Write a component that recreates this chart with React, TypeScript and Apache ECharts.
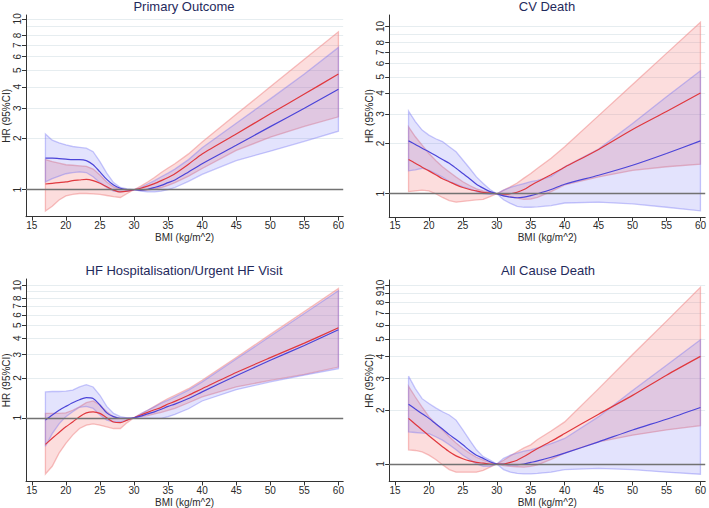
import React, { useEffect, useRef } from 'react';
import * as echarts from 'echarts';

// ---------- data ----------
const BMI = [17, 18, 19, 20, 21, 22, 23, 24, 25, 26, 27, 28, 29, 30, 31, 32, 33, 34, 35, 36, 38, 40, 45, 50, 55, 60];
const BMI_TICKS = [15, 20, 25, 30, 35, 40, 45, 50, 55, 60];
const HR_TICKS = [1, 2, 3, 4, 5, 6, 7, 8, 9, 10];
const TITLES = ['Primary Outcome', 'CV Death', 'HF Hospitalisation/Urgent HF Visit', 'All Cause Death'];

// Primary Outcome
const p1RedHR = [1.08, 1.09, 1.1, 1.11, 1.13, 1.14, 1.15, 1.13, 1.09, 1.04, 0.995, 0.97, 0.98, 1.0, 1.02, 1.05, 1.085, 1.13, 1.18, 1.24, 1.41, 1.62, 2.12, 2.78, 3.63, 4.75];
const p1RedLo = [0.75, 0.8, 0.87, 0.92, 0.94, 0.95, 0.95, 0.945, 0.94, 0.925, 0.91, 0.9, 0.95, 1.0, 0.99, 0.995, 1.01, 1.03, 1.06, 1.1, 1.2, 1.33, 1.7, 2.03, 2.35, 2.67];
const p1RedHi = [1.5, 1.46, 1.43, 1.4, 1.39, 1.38, 1.37, 1.32, 1.22, 1.11, 1.04, 1.01, 1.0, 1.0, 1.05, 1.11, 1.18, 1.26, 1.34, 1.42, 1.62, 1.9, 2.76, 4.0, 5.8, 8.4];
const p1BlueHR = [1.53, 1.53, 1.52, 1.51, 1.5, 1.5, 1.48, 1.4, 1.27, 1.15, 1.065, 1.02, 1.0, 1.0, 0.995, 1.005, 1.03, 1.06, 1.1, 1.14, 1.27, 1.42, 1.82, 2.34, 3.0, 3.87];
const p1BlueLo = [1.11, 1.16, 1.2, 1.24, 1.26, 1.27, 1.26, 1.19, 1.1, 1.03, 0.98, 0.97, 0.98, 1.0, 0.98, 0.97, 0.97, 0.98, 1.0, 1.03, 1.12, 1.23, 1.48, 1.68, 1.92, 2.2];
const p1BlueHi = [2.12, 1.95, 1.88, 1.83, 1.79, 1.77, 1.75, 1.67, 1.46, 1.25, 1.1, 1.03, 1.01, 1.0, 1.03, 1.08, 1.13, 1.19, 1.25, 1.32, 1.5, 1.76, 2.45, 3.4, 4.75, 6.8];

// CV Death
const p2RedHR = [1.6, 1.52, 1.44, 1.37, 1.3, 1.23, 1.18, 1.13, 1.09, 1.06, 1.04, 1.02, 1.01, 1.0, 0.995, 1.0, 1.02, 1.06, 1.12, 1.18, 1.3, 1.44, 1.84, 2.42, 3.1, 4.0];
const p2RedLo = [1.03, 1.04, 1.05, 1.04, 1.0, 0.95, 0.91, 0.89, 0.9, 0.91, 0.92, 0.925, 0.96, 1.0, 0.97, 0.96, 0.94, 0.925, 0.93, 0.95, 1.03, 1.13, 1.26, 1.38, 1.45, 1.5];
const p2RedHi = [2.51, 2.19, 1.95, 1.74, 1.58, 1.45, 1.35, 1.26, 1.18, 1.12, 1.07, 1.04, 1.02, 1.0, 1.05, 1.1, 1.16, 1.24, 1.32, 1.42, 1.63, 1.91, 2.93, 4.5, 6.9, 10.6];
const p2BlueHR = [2.07, 1.97, 1.87, 1.78, 1.69, 1.6, 1.52, 1.42, 1.32, 1.23, 1.14, 1.08, 1.03, 1.0, 0.97, 0.955, 0.946, 0.955, 0.975, 1.0, 1.06, 1.14, 1.29, 1.48, 1.74, 2.07];
const p2BlueLo = [1.37, 1.39, 1.42, 1.38, 1.32, 1.26, 1.18, 1.14, 1.1, 1.07, 1.03, 1.0, 0.99, 1.0, 0.92, 0.875, 0.84, 0.83, 0.83, 0.835, 0.85, 0.88, 0.89, 0.87, 0.83, 0.79];
const p2BlueHi = [3.12, 2.7, 2.4, 2.24, 2.13, 2.05, 1.91, 1.78, 1.59, 1.42, 1.26, 1.15, 1.06, 1.0, 1.05, 1.09, 1.12, 1.15, 1.18, 1.2, 1.27, 1.45, 1.85, 2.63, 3.8, 5.43];

// HF Hospitalisation / Urgent HF Visit
const p3RedHR = [0.63, 0.7, 0.775, 0.855, 0.93, 1.02, 1.09, 1.11, 1.08, 1.0, 0.93, 0.92, 0.96, 1.0, 1.05, 1.1, 1.15, 1.2, 1.27, 1.33, 1.48, 1.66, 2.2, 2.85, 3.67, 4.79];
const p3RedLo = [0.376, 0.43, 0.54, 0.64, 0.74, 0.83, 0.88, 0.9, 0.88, 0.855, 0.83, 0.83, 0.92, 1.0, 1.02, 1.04, 1.07, 1.1, 1.14, 1.18, 1.3, 1.44, 1.71, 1.92, 2.13, 2.42];
const p3RedHi = [1.08, 1.08, 1.08, 1.09, 1.14, 1.21, 1.3, 1.34, 1.25, 1.11, 1.02, 0.99, 0.99, 1.0, 1.07, 1.14, 1.22, 1.31, 1.4, 1.48, 1.66, 1.92, 2.86, 4.27, 6.37, 9.5];
const p3BlueHR = [0.96, 1.05, 1.14, 1.22, 1.3, 1.37, 1.42, 1.4, 1.25, 1.09, 1.02, 0.99, 0.99, 1.0, 1.03, 1.07, 1.11, 1.16, 1.22, 1.27, 1.4, 1.57, 2.08, 2.72, 3.52, 4.63];
const p3BlueLo = [0.61, 0.76, 0.9, 1.02, 1.11, 1.2, 1.22, 1.18, 1.05, 0.96, 0.93, 0.93, 0.96, 1.0, 0.99, 0.99, 0.99, 0.99, 1.02, 1.06, 1.17, 1.34, 1.63, 1.87, 2.1, 2.35];
const p3BlueHi = [1.57, 1.58, 1.58, 1.59, 1.62, 1.71, 1.78, 1.71, 1.48, 1.22, 1.08, 1.02, 1.0, 1.0, 1.07, 1.14, 1.21, 1.29, 1.36, 1.44, 1.62, 1.87, 2.78, 4.13, 6.15, 9.15];

// All Cause Death
const p4RedHR = [1.8, 1.67, 1.55, 1.44, 1.34, 1.25, 1.17, 1.11, 1.07, 1.04, 1.02, 1.01, 1.0, 1.0, 1.0, 1.02, 1.05, 1.1, 1.16, 1.22, 1.34, 1.48, 1.9, 2.42, 3.14, 4.0];
const p4RedLo = [1.2, 1.19, 1.17, 1.12, 1.06, 0.99, 0.93, 0.9, 0.9, 0.9, 0.9, 0.92, 0.96, 1.0, 0.98, 0.97, 0.965, 0.96, 0.97, 0.99, 1.06, 1.15, 1.33, 1.45, 1.55, 1.64];
const p4RedHi = [2.72, 2.37, 2.08, 1.84, 1.68, 1.55, 1.42, 1.31, 1.22, 1.15, 1.09, 1.05, 1.02, 1.0, 1.05, 1.11, 1.17, 1.23, 1.28, 1.37, 1.53, 1.72, 2.64, 4.1, 6.3, 9.75];
const p4BlueHR = [2.16, 2.03, 1.91, 1.8, 1.68, 1.57, 1.46, 1.37, 1.28, 1.19, 1.12, 1.075, 1.03, 1.0, 0.995, 0.99, 0.99, 1.0, 1.02, 1.04, 1.09, 1.15, 1.33, 1.55, 1.78, 2.07];
const p4BlueLo = [1.51, 1.5, 1.49, 1.48, 1.42, 1.36, 1.28, 1.2, 1.12, 1.06, 1.0, 0.97, 0.97, 1.0, 0.93, 0.9, 0.885, 0.88, 0.88, 0.885, 0.9, 0.93, 0.945, 0.93, 0.9, 0.876];
const p4BlueHi = [3.1, 2.64, 2.32, 2.18, 2.06, 1.96, 1.88, 1.76, 1.55, 1.36, 1.2, 1.1, 1.05, 1.0, 1.075, 1.12, 1.15, 1.18, 1.2, 1.23, 1.3, 1.39, 1.84, 2.58, 3.57, 4.95];

const PANEL_DATA = [
  { red: p1RedHR, redLo: p1RedLo, redHi: p1RedHi, blue: p1BlueHR, blueLo: p1BlueLo, blueHi: p1BlueHi },
  { red: p2RedHR, redLo: p2RedLo, redHi: p2RedHi, blue: p2BlueHR, blueLo: p2BlueLo, blueHi: p2BlueHi },
  { red: p3RedHR, redLo: p3RedLo, redHi: p3RedHi, blue: p3BlueHR, blueLo: p3BlueLo, blueHi: p3BlueHi },
  { red: p4RedHR, redLo: p4RedLo, redHi: p4RedHi, blue: p4BlueHR, blueLo: p4BlueLo, blueHi: p4BlueHi },
];

// ---------- layout & style ----------
const LAYOUT = [
  { left: 25.2, top: 15, width: 318, height: 201.7, ymin: 0.695, ymax: 10.53, tx: 184, ty: 0 },
  { left: 389.2, top: 15, width: 317.2, height: 202.3, ymin: 0.723, ymax: 11.7, tx: 547, ty: 0 },
  { left: 25.2, top: 279, width: 318, height: 203.3, ymin: 0.33, ymax: 11.2, tx: 184, ty: 263.5 },
  { left: 389.2, top: 280, width: 317.2, height: 202.3, ymin: 0.798, ymax: 10.7, tx: 548, ty: 263.5 },
];
const XMIN = 14.15;
const XMAX = 60.7;

const FONT = '"Liberation Sans", Arial, Helvetica, sans-serif';
const RED_LINE = '#e0383e';
const BLUE_LINE = '#4b44d8';
const RED_FILL = 'rgba(245,120,120,0.25)';
const RED_EDGE = 'rgba(240,130,130,0.5)';
const BLUE_FILL = 'rgba(100,100,245,0.18)';
const BLUE_EDGE = 'rgba(110,110,245,0.38)';
const AXIS_COLOR = '#333333';
const TEXT_COLOR = '#2a2a2a';
const TITLE_COLOR = '#1f2a5c';

function bandSeries(idx: number, lo: number[], hi: number[], fill: string, stroke: string, extra: any = {}) {
  return {
    type: 'custom',
    xAxisIndex: idx,
    yAxisIndex: idx,
    silent: true,
    data: BMI.map((x, i) => [x, lo[i], hi[i]]),
    encode: { x: 0, y: [1, 2] },
    renderItem: (params: any, api: any) => {
      if (params.dataIndex !== 0) return null;
      const pts: number[][] = [];
      for (let i = 0; i < BMI.length; i++) pts.push(api.coord([BMI[i], hi[i]]));
      for (let i = BMI.length - 1; i >= 0; i--) pts.push(api.coord([BMI[i], lo[i]]));
      return {
        type: 'polygon',
        shape: { points: pts },
        style: { fill, stroke, lineWidth: 1.3 },
      };
    },
    ...extra,
  };
}

function lineSeries(idx: number, vals: number[], color: string) {
  return {
    type: 'line',
    xAxisIndex: idx,
    yAxisIndex: idx,
    data: BMI.map((x, i) => [x, vals[i]]),
    showSymbol: false,
    smooth: 0.25,
    silent: true,
    lineStyle: { color, width: 1.2 },
  };
}

export default function App() {
  const ref = useRef<HTMLDivElement>(null);

  useEffect(() => {
    document.body.style.margin = '0';
    if (!ref.current) return;
    const chart = echarts.init(ref.current, null, { renderer: 'svg' });

    const grid = LAYOUT.map((l) => ({ left: l.left, top: l.top, width: l.width, height: l.height, containLabel: false }));
    const title = LAYOUT.map((l, i) => ({
      text: TITLES[i],
      left: l.tx,
      top: l.ty,
      textAlign: 'center',
      padding: 0,
      textStyle: { fontSize: 13, fontWeight: 'normal', color: TITLE_COLOR, fontFamily: FONT },
    }));
    const xAxis = LAYOUT.map((l, i) => ({
      type: 'value',
      gridIndex: i,
      min: XMIN,
      max: XMAX,
      name: 'BMI (kg/m^2)',
      nameLocation: 'middle',
      nameGap: 15.5,
      nameTextStyle: { fontSize: 10, color: TEXT_COLOR, fontFamily: FONT },
      axisLine: { show: true, lineStyle: { color: AXIS_COLOR, width: 1 } },
      axisTick: { show: true, length: 4, customValues: BMI_TICKS, lineStyle: { color: AXIS_COLOR } },
      axisLabel: { customValues: BMI_TICKS, margin: 3.5, fontSize: 10, color: TEXT_COLOR, fontFamily: FONT, hideOverlap: false },
      splitLine: { show: false },
    }));
    const yAxis = LAYOUT.map((l, i) => ({
      type: 'log',
      logBase: 10,
      gridIndex: i,
      min: l.ymin,
      max: l.ymax,
      name: 'HR (95%CI)',
      nameLocation: 'middle',
      nameGap: 15,
      nameTextStyle: { fontSize: 10, color: TEXT_COLOR, fontFamily: FONT },
      axisLine: { show: true, lineStyle: { color: AXIS_COLOR, width: 1 } },
      axisTick: { show: true, length: 4, customValues: HR_TICKS, lineStyle: { color: AXIS_COLOR } },
      axisLabel: {
        customValues: HR_TICKS,
        rotate: 90,
        margin: 4,
        fontSize: 10,
        color: TEXT_COLOR,
        fontFamily: FONT,
        hideOverlap: false,
        showMinLabel: true,
        showMaxLabel: true,
      },
      splitLine: { show: true, lineStyle: { color: '#e6edf0', width: 1 } },
    }));

    const series: any[] = [];
    PANEL_DATA.forEach((d, i) => {
      series.push(
        bandSeries(i, d.redLo, d.redHi, RED_FILL, RED_EDGE, {
          markLine: {
            silent: true,
            symbol: 'none',
            label: { show: false },
            lineStyle: { color: '#727272', width: 1.4, type: 'solid' },
            data: [{ yAxis: 1 }],
          },
        })
      );
      series.push(bandSeries(i, d.blueLo, d.blueHi, BLUE_FILL, BLUE_EDGE));
      series.push(lineSeries(i, d.red, RED_LINE));
      series.push(lineSeries(i, d.blue, BLUE_LINE));
    });

    chart.setOption({
      animation: false,
      textStyle: { fontFamily: FONT },
      title,
      grid,
      xAxis,
      yAxis,
      series,
    });
    return () => chart.dispose();
  }, []);

  return <div ref={ref} style={{ width: 709, height: 508, position: 'absolute', left: 0, top: 0, background: '#fff' }} />;
}
